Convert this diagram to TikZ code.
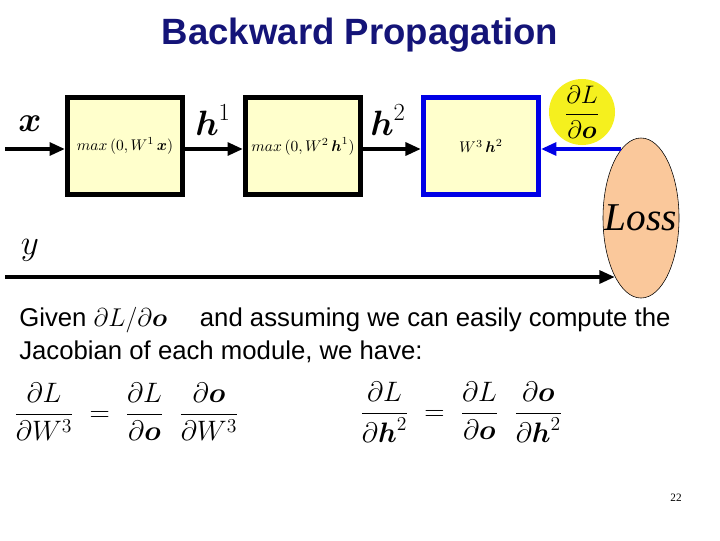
\RequirePackage{fix-cm}
\documentclass[tikz,border=0pt]{standalone}
\usepackage{amsmath, amssymb}
\usepackage{fontspec}
\setsansfont{Liberation Sans}
\newfontfamily\timesfont{Liberation Serif}
\usepackage{tikz}
\usetikzlibrary{positioning,arrows.meta,shapes.geometric}
\usepackage{xcolor}
\definecolor{TitleBlue}{RGB}{20,20,120}
\definecolor{BoxFill}{RGB}{255,255,204}
\definecolor{BackBlue}{RGB}{0,0,230}
\definecolor{LossFill}{RGB}{250,200,155}
\definecolor{GradYellow}{RGB}{245,240,30}

\begin{document}
\begin{tikzpicture}[
    x=0.025cm, y=-0.025cm,
    node distance=1.45cm,
    module/.style={rectangle, draw=black, line width=3.5pt, fill=BoxFill,
        minimum width=2.875cm, minimum height=2.425cm, inner sep=0pt,
        font=\fontsize{11}{12}\selectfont},
    backmodule/.style={module, draw=BackBlue},
    biglabel/.style={inner sep=0pt, font=\fontsize{25}{30}\selectfont},
    bodytext/.style={inner sep=0pt, anchor=west, font=\sffamily\fontsize{18.3}{22}\selectfont},
    eqn/.style={inner sep=0pt, anchor=west, font=\fontsize{20}{24}\selectfont},
    fwd/.style={draw=black, line width=2.8pt, -{Triangle[length=11pt, width=9pt]}},
    bwd/.style={draw=BackBlue, line width=2.8pt, -{Triangle[length=11pt, width=9pt]}},
]
\useasboundingbox (0,0) rectangle (720,540);

% title
\node[font=\sffamily\bfseries\fontsize{26}{30}\selectfont, text=TitleBlue] (title) at (360,35) {Backward Propagation};

% modules
\node[module] (m1) at (125,146) {$max\,(0, W^{1}\,\boldsymbol{x})$};
\node[module, right=of m1] (m2) {$max\,(0, W^{2}\,\boldsymbol{h}^{1})$};
\node[backmodule, right=of m2] (m3) {$W^{3}\,\boldsymbol{h}^{2}$};

\node[ellipse, draw=black, thin, fill=LossFill, minimum width=1.9cm, minimum height=4cm,
    inner sep=0pt] (loss) at (641,218) {};
\node[inner sep=0pt, font=\timesfont\itshape\fontsize{28}{32}\selectfont] (losstext) at (loss) {Loss};
\node[circle, fill=GradYellow, minimum size=1.65cm, inner sep=0pt,
    font=\fontsize{18}{22}\selectfont] (dLdo) at (582,112) {$\dfrac{\partial L}{\partial \boldsymbol{o}}$};

% labels
\node[biglabel] (xlab) at (30,124) {$\boldsymbol{x}$};
\node[biglabel] (h1lab) at (213,120) {$\boldsymbol{h}^{1}$};
\node[biglabel] (h2lab) at (388,120) {$\boldsymbol{h}^{2}$};
\node[biglabel] (ylab) at (30,250) {$y$};

% connectors
\coordinate (xin) at (5,149);
\coordinate (yin) at (5,277);
\draw[fwd] (xin) -- (xin -| m1.west);
\draw[fwd] (m1.east |- xin) -- (m2.west |- xin);
\draw[fwd] (m2.east |- xin) -- (m3.west |- xin);
\draw[bwd] (xin -| loss.106) -- (m3.east |- xin);
\draw[fwd] (yin) -- (yin -| loss.246);

% text
\node[bodytext] (given) at (19,320) {Given $\partial L/\partial \boldsymbol{o}$\quad\ and assuming we can easily compute the};
\node[bodytext] (jacob) at (19,352) {Jacobian of each module, we have:};
\node[eqn] (eqW) at (14,412) {$\dfrac{\partial L}{\partial W^{3}} \;=\; \dfrac{\partial L}{\partial \boldsymbol{o}}\;\;\dfrac{\partial \boldsymbol{o}}{\partial W^{3}}$};
\node[eqn] (eqh) at (360,412) {$\dfrac{\partial L}{\partial \boldsymbol{h}^{2}} \;=\; \dfrac{\partial L}{\partial \boldsymbol{o}}\;\;\dfrac{\partial \boldsymbol{o}}{\partial \boldsymbol{h}^{2}}$};

\node[font=\timesfont\fontsize{8}{9}\selectfont] (pnum) at (676,498) {22};
\end{tikzpicture}
\end{document}
